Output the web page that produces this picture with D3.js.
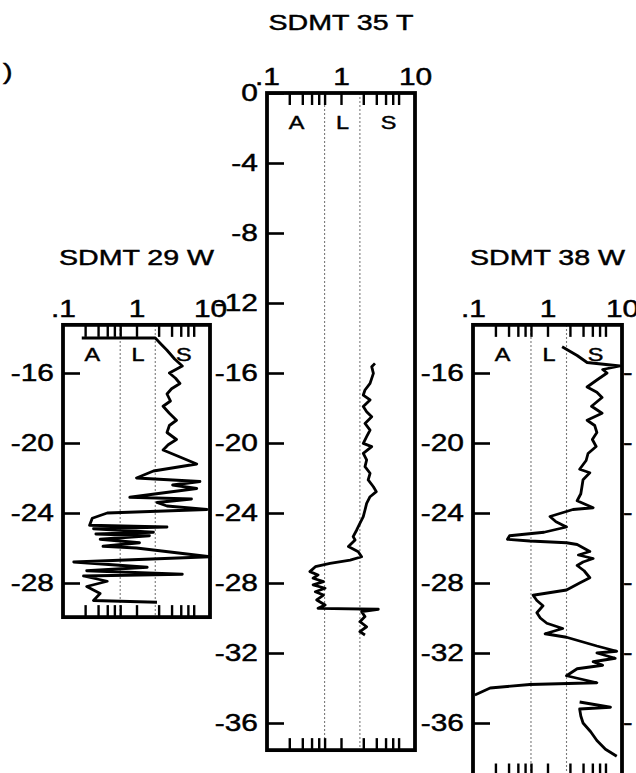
<!DOCTYPE html>
<html>
<head>
<meta charset="utf-8">
<script src="https://cdn.jsdelivr.net/npm/d3@7"></script>
<style>
  html, body { margin: 0; padding: 0; background: #fff; }
  svg { display: block; }
  text { font-family: "Liberation Sans", Arial, sans-serif; fill: #000; stroke: #000; stroke-width: 0.45px; }
</style>
</head>
<body>
<svg id="chart" width="636" height="773"></svg>
<script>
// ---------------- DATA ----------------
const panelTitles = ["SDMT 29 W", "SDMT 35 T", "SDMT 38 W"];
const xTickLabels = [".1", "1", "10"];
const xLabelValues = [0.1, 1, 10];
const xMinorTicks = [0.2, 0.3, 0.4, 0.5, 0.6, 1, 2, 3, 4, 5, 6];
const classLetters = ["A", "L", "S"];
const classLetterPos = [0.25, 1.05, 4.4];
const classBounds = [0.6, 1.8];

const depthTicks29 = [16, 20, 24, 28];
const depthTicks35 = [0, 4, 8, 12, 16, 20, 24, 28, 32, 36];
const depthTicks38 = [16, 20, 24, 28, 32, 36];

// SDMT 29 W : depth (m) and material index ID
const depth29 = [14.0, 14.0, 14.3, 14.7, 15.2, 15.6, 16.0, 16.3, 16.6, 16.9, 17.2, 17.6, 17.9, 18.3, 18.7, 19.0, 19.4, 19.8, 20.1, 20.4, 20.8, 21.2, 21.6, 22.0, 22.2, 22.4, 22.6, 23.1, 23.2, 23.4, 23.6, 23.8, 24.0, 24.3, 24.7, 24.8, 24.9, 25.1, 25.2, 25.3, 25.5, 25.7, 25.9, 26.0, 26.5, 26.8, 27.1, 27.3, 27.5, 27.6, 27.9, 28.2, 28.6, 29.0, 29.1];
const id29    = [0.18, 1.8, 2.1, 2.6, 3.3, 4.2, 2.8, 3.4, 3.9, 3.0, 2.6, 2.9, 2.3, 2.8, 3.5, 2.8, 2.6, 3.5, 2.7, 2.3, 3.9, 6.6, 1.7, 1.0, 7.3, 3.1, 6.6, 0.81, 5.6, 1.9, 2.6, 9.1, 0.4, 0.25, 0.23, 2.6, 0.26, 1.7, 0.28, 1.5, 0.32, 1.1, 0.35, 1.0, 10, 0.14, 1.4, 0.21, 4.2, 0.19, 0.4, 0.21, 0.32, 0.26, 1.9];

// SDMT 35 T
const depth35 = [15.45, 15.64, 16.02, 16.59, 16.97, 17.26, 17.54, 17.92, 18.21, 18.5, 18.88, 19.26, 19.64, 20.02, 20.21, 20.59, 20.97, 21.35, 21.73, 22.11, 22.5, 22.78, 23.07, 23.45, 23.83, 24.21, 24.59, 24.97, 25.35, 25.54, 25.92, 26.21, 26.5, 26.69, 26.88, 27.07, 27.35, 27.54, 27.73, 27.92, 28.11, 28.3, 28.5, 28.69, 28.97, 29.26, 29.45, 29.5, 29.64, 29.92, 30.21, 30.5, 30.78, 30.97];
const id35    = [2.88, 2.6, 2.74, 2.47, 2.11, 2.0, 2.47, 2.0, 2.22, 2.6, 2.11, 2.47, 2.22, 2.0, 2.6, 2.0, 2.22, 2.11, 2.47, 2.33, 2.74, 3.0, 2.47, 2.22, 2.11, 2.0, 1.8, 1.63, 1.46, 1.55, 1.26, 1.71, 1.9, 1.33, 0.71, 0.45, 0.38, 0.49, 0.42, 0.58, 0.42, 0.61, 0.45, 0.58, 0.47, 0.61, 0.49, 3.19, 1.9, 2.11, 1.8, 2.22, 1.8, 2.11];

// SDMT 38 W (null = gap in record)
const depth38 = [14.5, 15.0, 15.4, 15.6, 15.8, 16.0, 16.4, 16.8, 17.1, 17.4, 17.9, 18.3, 18.7, 19.0, 19.4, 19.8, 20.2, 20.6, 21.0, 21.5, 21.7, 22.1, 22.5, 22.9, 23.3, 23.7, 23.8, 24.2, 24.5, 24.8, 25.1, 25.3, 25.5, 25.6, 25.7, 25.8, 26.2, 26.4, 26.6, 26.8, 27.0, 27.3, 27.7, 28.0, 28.4, 28.7, 29.0, 29.3, 29.7, 30.0, 30.3, 30.6, 30.9, 31.1, 31.6, 31.9, 32.0, 32.3, 32.5, 32.7, 32.9, 33.3, 33.7, 33.8, 34.0, 34.4, 34.6, 34.8, 35.1, 35.2, 35.6, 36.0, 36.5, 37.0, 37.5, 37.9];
const id38    = [1.57, 2.5, 3.4, 9.4, 5.5, 6.3, 4.6, 3.4, 4.6, 5.4, 3.9, 5.4, 3.4, 4.3, 4.6, 4.0, 4.5, 3.5, 3.3, 2.7, 3.7, 3.0, 2.9, 2.8, 2.5, 4.1, 2.2, 1.08, 1.3, 1.8, 0.9, 0.31, 0.29, 0.58, 1.8, 2.5, 3.7, 2.6, 4.1, 3.0, 2.5, 3.1, 3.7, 2.7, 1.8, 0.64, 0.72, 0.87, 0.72, 0.8, 0.98, 1.6, 0.93, 1.8, 4.6, 8.5, 4.6, 8.1, 4.1, 5.5, 2.5, 1.8, 4.6, 0.58, 0.17, 0.106, null, 2.7, 7.0, 2.7, 2.8, 3.0, 3.8, 4.6, 6.0, 8.5];

// Tick labels of a neighbouring (cropped) panel at the right edge
const edgeFragmentDepths = [16, 20, 24, 28, 32, 36];

// ---------------- LAYOUT ----------------
const svg = d3.select("#chart");
const SX = 1.3; // horizontal stretch of the original lettering
const y = d3.scaleLinear().domain([0, 40]).range([93, 793]);

const panels = [
  { title: panelTitles[0], x0: 63,  x1: 210, dTop: 13.25, dBot: 29.95, depth: depth29, id: id29, ticks: depthTicks29, titleY: 265 },
  { title: panelTitles[1], x0: 267, x1: 415, dTop: 0,     dBot: 37.55, depth: depth35, id: id35, ticks: depthTicks35, titleY: 30 },
  { title: panelTitles[2], x0: 473, x1: 622, dTop: 13.25, dBot: 39.0,  depth: depth38, id: id38, ticks: depthTicks38, titleY: 265 }
];

function stretchedText(parent, x, yy, str, size, anchor) {
  parent.append("g")
    .attr("transform", `translate(${x},${yy}) scale(${SX},1)`)
    .append("text")
    .attr("text-anchor", anchor)
    .attr("font-size", size)
    .text(str);
}

// stray fragment at top-left
stretchedText(svg, 3, 79, ")", 22, "start");

panels.forEach(p => {
  const g = svg.append("g");
  const x = d3.scaleLog().domain([0.1, 10]).range([p.x0, p.x1]);
  const top = y(p.dTop), bot = y(p.dBot);
  const cx = (p.x0 + p.x1) / 2;

  // title
  stretchedText(g, cx, p.titleY, p.title, 22, "middle");

  // class boundaries (dotted)
  g.selectAll("line.bound").data(classBounds).join("line")
    .attr("x1", d => x(d)).attr("x2", d => x(d))
    .attr("y1", top).attr("y2", bot)
    .attr("stroke", "#7a7a7a").attr("stroke-width", 1.1)
    .attr("stroke-dasharray", "2,2");

  // minor ticks top (inward)
  const topAx = g.append("g").attr("transform", `translate(0,${top})`)
    .call(d3.axisTop(x).tickValues(xMinorTicks).tickSize(-12).tickFormat(""));
  topAx.select(".domain").remove();
  topAx.selectAll("line").attr("stroke", "#000").attr("stroke-width", 2.4);

  // bottom ticks (inward)
  const botAx = g.append("g").attr("transform", `translate(0,${bot})`)
    .call(d3.axisBottom(x).tickValues(xMinorTicks).tickSize(-12).tickFormat(""));
  botAx.select(".domain").remove();
  botAx.selectAll("line").attr("stroke", "#000").attr("stroke-width", 2.4);

  // top labels
  const lab = g.append("g").attr("transform", `translate(0,${top})`)
    .call(d3.axisTop(x).tickValues(xLabelValues).tickSize(0).tickPadding(8)
      .tickFormat((d, i) => xTickLabels[i]));
  lab.select(".domain").remove();
  lab.selectAll("text")
    .attr("font-size", 23).attr("fill", "#000")
    .attr("font-family", "Liberation Sans, Arial, sans-serif")
    .attr("transform", `scale(${SX},1)`)
    .attr("x", 0);

  // depth axis (ticks inward, labels outside)
  const yAx = g.append("g").attr("transform", `translate(${p.x0},0)`)
    .call(d3.axisLeft(y).tickValues(p.ticks).tickSize(-17).tickPadding(7)
      .tickFormat(d => d === 0 ? "0" : "-" + d));
  yAx.select(".domain").remove();
  yAx.selectAll("line").attr("stroke", "#000").attr("stroke-width", 2.6);
  yAx.selectAll("text")
    .attr("font-size", 23).attr("fill", "#000")
    .attr("font-family", "Liberation Sans, Arial, sans-serif")
    .attr("transform", `scale(${SX},1)`);

  // class letters
  classLetters.forEach((L, i) => {
    stretchedText(g, x(classLetterPos[i]), top + 36, L, 18, "middle");
  });

  // data line
  const pts = p.depth.map((d, i) => ({ d, v: p.id[i] }));
  const line = d3.line()
    .defined(q => q.v != null)
    .x(q => x(q.v)).y(q => y(q.d));
  g.append("path").datum(pts)
    .attr("d", line)
    .attr("fill", "none").attr("stroke", "#000")
    .attr("stroke-width", 2.8).attr("stroke-linejoin", "round");

  // frame
  g.append("rect")
    .attr("x", p.x0).attr("y", top)
    .attr("width", p.x1 - p.x0).attr("height", bot - top)
    .attr("fill", "none").attr("stroke", "#000").attr("stroke-width", 3.8);
});

// fragments of the next panel's depth labels at the right edge
edgeFragmentDepths.forEach(d => {
  svg.append("g")
    .attr("transform", `translate(623,${y(d)}) scale(${SX},1)`)
    .append("text").attr("dy", "0.32em").attr("font-size", 22).text("-");
});
</script>
</body>
</html>
